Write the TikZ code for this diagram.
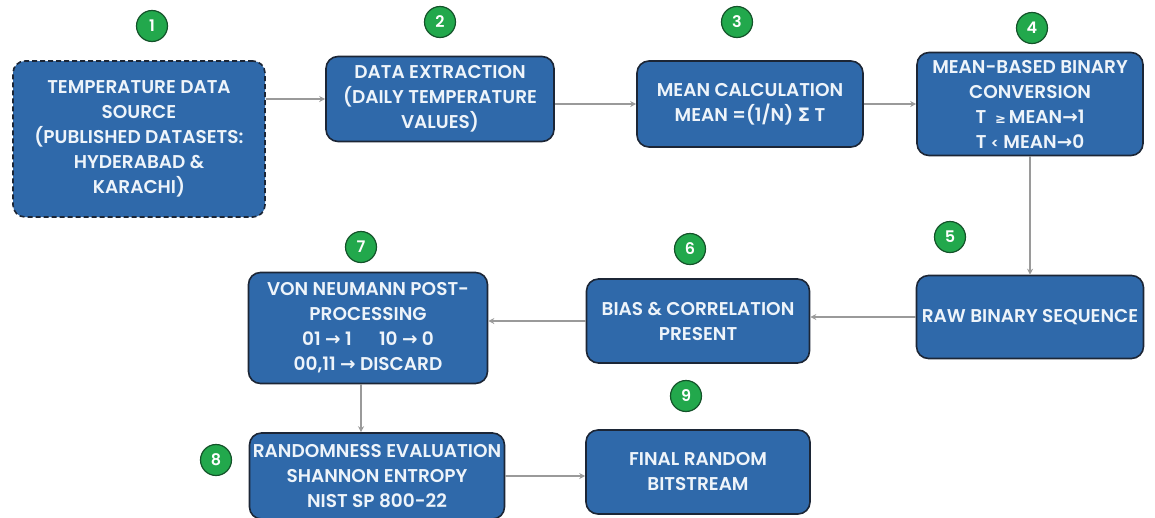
\documentclass[tikz,border=0pt]{standalone}
\usepackage{fontspec}
\setmainfont{Poppins}[BoldFont={Poppins SemiBold}]
\newfontfamily\symfont{DejaVu Sans}
\usetikzlibrary{arrows.meta}
\definecolor{boxblue}{HTML}{2F69AA}
\definecolor{boxedge}{HTML}{1C2636}
\definecolor{stepgreen}{HTML}{22A84C}
\definecolor{stepedge}{HTML}{14532A}
\definecolor{linkgray}{HTML}{9A9A9A}
\definecolor{boxtext}{HTML}{EEF4FA}

\begin{document}
\begin{tikzpicture}[x=1pt,y=-1pt,>={Stealth[length=6pt,width=6pt]},
  box/.style={rectangle,rounded corners=12pt,draw=boxedge,line width=1.6pt,fill=boxblue,
    text=boxtext,align=center,inner sep=1pt,font=\fontsize{18.5}{25}\selectfont\bfseries},
  num node/.style={circle,draw=stepedge,line width=1.2pt,fill=stepgreen,text=white,
    minimum size=31pt,inner sep=0pt,font=\fontsize{16}{16}\selectfont\bfseries},
  link/.style={->,draw=linkgray,line width=1.5pt}]
  \useasboundingbox (0,0) rectangle (1155,517);
  \node[box,dashed,dash pattern=on 5pt off 3pt,minimum width=252pt,minimum height=156pt] (source) at (139,139)
    {TEMPERATURE DATA\\SOURCE\\(PUBLISHED DATASETS:\\HYDERABAD \&\\KARACHI)};
  \node[box,minimum width=228pt,minimum height=85pt] (extract) at (440,99)
    {DATA EXTRACTION\\(DAILY TEMPERATURE\\VALUES)};
  \node[box,minimum width=226pt,minimum height=86pt] (mean) at (750,104)
    {MEAN CALCULATION\\MEAN =(1/N) {\symfont Σ} T};
  \node[box,minimum width=226pt,minimum height=103pt] (binary) at (1030,104)
    {MEAN-BASED BINARY\\CONVERSION\\T \ {\symfont\fontsize{13}{13}\selectfont ≥}\,MEAN{\symfont →}1\\T {\fontsize{14}{14}\selectfont <} MEAN{\symfont →}0};
  \node[box,minimum width=227pt,minimum height=83pt] (raw) at (1030,317)
    {RAW BINARY SEQUENCE};
  \node[box,minimum width=223pt,minimum height=84pt] (bias) at (698,321)
    {BIAS \& CORRELATION\\PRESENT};
  \node[box,minimum width=239pt,minimum height=111pt] (neumann) at (368,328)
    {VON NEUMANN POST-\\PROCESSING\\01 {\symfont →} 1 \quad\ 10 {\symfont →} 0\\00,11 {\symfont →} DISCARD};
  \node[box,minimum width=255pt,minimum height=86pt] (eval) at (377,476)
    {RANDOMNESS EVALUATION\\SHANNON ENTROPY\\NIST SP 800-22};
  \node[box,minimum width=224pt,minimum height=84pt] (final) at (698,472)
    {FINAL RANDOM\\BITSTREAM};
  % step numbers
  \node[num node] (n1) at (152,26) {1};
  \node[num node] (n2) at (440,22) {2};
  \node[num node] (n3) at (737,22) {3};
  \node[num node] (n4) at (1032,28) {4};
  \node[num node] (n5) at (950,237) {5};
  \node[num node] (n6) at (690,249) {6};
  \node[num node] (n7) at (361,247) {7};
  \node[num node] (n8) at (216,460) {8};
  \node[num node] (n9) at (686,396) {9};
  % flow
  \draw[link] (source.east |- extract.west) -- (extract.west);
  \draw[link] (extract.east |- mean.west) -- (mean.west);
  \draw[link] (mean) -- (binary);
  \draw[link] (binary) -- (raw);
  \draw[link] (raw) -- (raw -| bias.east);
  \draw[link] (bias) -- (bias -| neumann.east);
  \draw[link] (neumann.south -| n7) -- (eval.north -| n7);
  \draw[link] (eval) -- (eval -| final.west);
\end{tikzpicture}
\end{document}
